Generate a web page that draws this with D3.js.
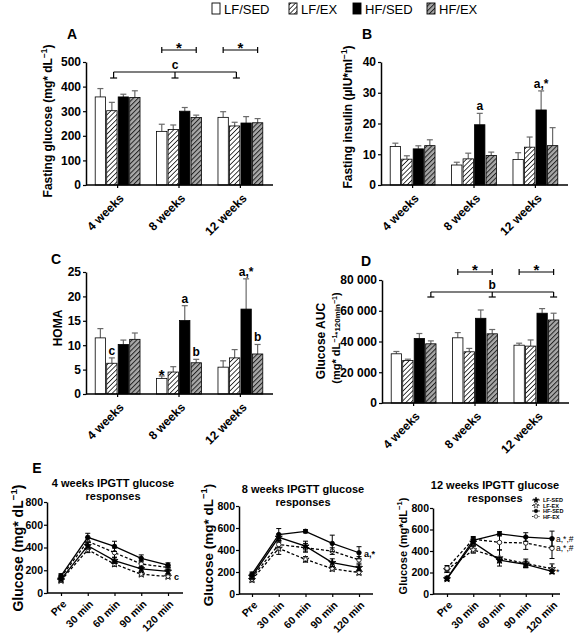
<!DOCTYPE html>
<html><head><meta charset="utf-8">
<script src="https://cdn.jsdelivr.net/npm/d3@7"></script>
<style>
body{margin:0;background:#fff}
svg{display:block}
text{font-family:"Liberation Sans",Arial,sans-serif}
</style>
</head><body>
<svg id="chart" width="576" height="635"></svg>
<script>
// ---------- DATA ----------
const groups = ["4 weeks", "8 weeks", "12 weeks"];
const series = ["LF/SED", "LF/EX", "HF/SED", "HF/EX"];
// rows = groups, columns = series
const glucoseMean = [[358, 302, 358, 356], [218, 226, 300, 274], [275, 240, 252, 253]];
const glucoseErr  = [[34, 34, 11, 27], [29, 18, 15, 10], [23, 15, 26, 17]];
const insulinMean = [[12.5, 8.4, 11.75, 12.8], [6.5, 8.5, 19.6, 9.6], [8.3, 12.3, 24.4, 12.8]];
const insulinErr  = [[1.1, 1.1, 1.0, 1.9], [0.9, 1.85, 3.7, 1.1], [2.2, 3.3, 6.2, 5.85]];
const homaMean = [[11.5, 6.3, 10.15, 11.2], [3.2, 4.5, 15.05, 6.4], [5.5, 7.4, 17.4, 8.2]];
const homaErr  = [[1.9, 1.1, 0.9, 1.3], [0.5, 1.1, 3.05, 0.7], [1.3, 1.7, 6.2, 1.95]];
const aucMean = [[32000, 27700, 42000, 38500], [42400, 33300, 55100, 45000], [37600, 37000, 58400, 54000]];
const aucErr  = [[1500, 800, 3200, 1900], [3400, 2200, 5400, 2800], [1300, 4000, 3000, 4400]];
const yTicksGlucose = [0, 100, 200, 300, 400, 500];
const yTicksInsulin = [0, 10, 20, 30, 40];
const yTicksHoma = [0, 5, 10, 15, 20, 25];
const yTicksAuc = [0, 20000, 40000, 60000, 80000];

const times = ["Pre", "30 min", "60 min", "90 min", "120 min"];
const lineSeries = ["LF-SED", "LF-EX", "HF-SED", "HF-EX"];
const yTicksIpgtt = [0, 200, 400, 600, 800];
// rows = lineSeries
const ipgtt4Mean = [[120, 415, 285, 212, 190], [110, 380, 255, 165, 145], [150, 490, 410, 305, 245], [140, 455, 355, 255, 225]];
const ipgtt4Err  = [[15, 30, 25, 20, 20], [15, 25, 20, 15, 15], [20, 35, 45, 30, 20], [20, 30, 40, 30, 20]];
const ipgtt8Mean = [[160, 515, 435, 285, 240], [130, 415, 315, 230, 195], [180, 540, 570, 460, 375], [150, 450, 420, 390, 310]];
const ipgtt8Err  = [[20, 30, 45, 35, 25], [20, 55, 25, 20, 20], [20, 55, 15, 75, 55], [20, 30, 40, 30, 30]];
const ipgtt12Mean = [[140, 480, 315, 275, 210], [225, 410, 335, 285, 235], [145, 500, 560, 530, 515], [240, 510, 480, 475, 425]];
const ipgtt12Err  = [[15, 30, 25, 30, 20], [25, 30, 75, 40, 45], [20, 25, 20, 40, 70], [25, 25, 70, 60, 95]];

// ---------- SETUP ----------
const svg = d3.select("#chart");
const defs = svg.append("defs");
function hatch(id, bg, fg, w) {
  const s = 3.4;
  const p = defs.append("pattern").attr("id", id).attr("patternUnits", "userSpaceOnUse")
    .attr("width", s).attr("height", s).attr("patternTransform", "rotate(45)");
  p.append("rect").attr("width", s).attr("height", s).attr("fill", bg);
  p.append("line").attr("x1", 0).attr("y1", 0).attr("x2", 0).attr("y2", s).attr("stroke", fg).attr("stroke-width", w);
}
hatch("hl", "#fff", "#000", 1.5);
hatch("hd", "#a8a8a8", "#222", 2);
const fills = {"LF/SED": "#fff", "LF/EX": "url(#hl)", "HF/SED": "#000", "HF/EX": "url(#hd)"};

function rich(t, parts, size) {
  let up = false;
  parts.forEach(p => {
    const sup = p.startsWith("^");
    const s = t.append("tspan").text(sup ? p.slice(1) : p);
    if (sup) {
      s.attr("font-size", size * 0.7);
      if (!up) { s.attr("dy", -size * 0.42); up = true; }
    } else if (up) { s.attr("dy", size * 0.42); up = false; }
  });
  return t;
}
function vlabel(x, y, parts, size) {
  const t = svg.append("text").attr("transform", `translate(${x},${y}) rotate(-90)`)
    .attr("text-anchor", "middle").attr("font-size", size).attr("font-weight", "bold");
  return rich(t, parts, size);
}
function txt(x, y, s, size, opts = {}) {
  return svg.append("text").attr("x", x).attr("y", y).attr("font-size", size)
    .attr("font-weight", opts.weight || "bold").attr("text-anchor", opts.anchor || "middle").text(s);
}
function styleAxis(a, fs) {
  a.select(".domain").attr("stroke", "#000").attr("stroke-width", 1.5);
  a.selectAll(".tick line").attr("stroke", "#000").attr("stroke-width", 1.2);
  a.selectAll("text").attr("font-size", fs).attr("font-weight", "bold").attr("fill", "#000")
    .attr("font-family", '"Liberation Sans",Arial,sans-serif');
}

// ---------- BAR PANELS ----------
function barPanel(o) {
  const g = svg.append("g");
  const x = d3.scaleBand().domain(groups).range([o.left, o.left + 186]).paddingInner(0.27).paddingOuter(0.15);
  const xi = d3.scaleBand().domain(series).range([0, x.bandwidth()]).paddingInner(0.1);
  const y = d3.scaleLinear().domain([0, d3.max(o.ticks)]).range([o.bottom, o.top]);
  groups.forEach((gr, gi) => {
    series.forEach((s, si) => {
      const m = o.mean[gi][si], e = o.err[gi][si];
      const bx = x(gr) + xi(s), cx = bx + xi.bandwidth() / 2;
      g.append("line").attr("x1", cx).attr("x2", cx).attr("y1", y(m)).attr("y2", y(m + e))
        .attr("stroke", "#6a6a6a").attr("stroke-width", 1.2);
      g.append("line").attr("x1", cx - 3).attr("x2", cx + 3).attr("y1", y(m + e)).attr("y2", y(m + e))
        .attr("stroke", "#6a6a6a").attr("stroke-width", 1.2);
      g.append("rect").attr("x", bx).attr("y", y(m)).attr("width", xi.bandwidth())
        .attr("height", o.bottom - y(m)).attr("fill", fills[s]).attr("stroke", "#000").attr("stroke-width", 0.8);
    });
  });
  const ya = g.append("g").attr("transform", `translate(${o.left},0)`)
    .call(d3.axisLeft(y).tickValues(o.ticks).tickSize(3).tickSizeOuter(0).tickPadding(2)
      .tickFormat(o.fmt || d3.format("d")));
  styleAxis(ya, 12);
  const xa = g.append("g").attr("transform", `translate(0,${o.bottom})`)
    .call(d3.axisBottom(x).tickSize(3).tickSizeOuter(0));
  styleAxis(xa, 12);
  xa.select(".domain").attr("d", `M${o.left},0H${o.left + 187}`);
  xa.selectAll(".tick text").attr("x", 0).attr("y", 0).attr("dy", "0.35em")
    .attr("text-anchor", "end").attr("transform", "translate(4,11) rotate(-45)");
  const cx = (gi, si) => x(groups[gi]) + xi(series[si]) + xi.bandwidth() / 2;
  return {x, xi, y, cx};
}
function starBracket(p, gi, yl) {
  const x1 = p.cx(gi, 0), x2 = p.cx(gi, 3);
  const g = svg.append("g").attr("stroke", "#000").attr("stroke-width", 1.2);
  g.append("line").attr("x1", x1).attr("x2", x2).attr("y1", yl).attr("y2", yl);
  g.append("line").attr("x1", x1).attr("x2", x1).attr("y1", yl - 3).attr("y2", yl + 3);
  g.append("line").attr("x1", x2).attr("x2", x2).attr("y1", yl - 3).attr("y2", yl + 3);
  txt((x1 + x2) / 2, yl + 3, "*", 15);
}
function spanBracket(xs, yTop, yBot, label, labelX) {
  const g = svg.append("g").attr("stroke", "#000").attr("stroke-width", 1.2);
  g.append("line").attr("x1", xs[0]).attr("x2", xs[xs.length - 1]).attr("y1", yTop).attr("y2", yTop);
  xs.forEach(xx => {
    g.append("line").attr("x1", xx).attr("x2", xx).attr("y1", yTop).attr("y2", yBot);
    g.append("line").attr("x1", xx - 3.5).attr("x2", xx + 3.5).attr("y1", yBot).attr("y2", yBot);
  });
  txt(labelX, yTop - 3, label, 12);
}
function barNote(p, gi, si, mean, err, s) {
  const top = p.y(mean[gi][si] + err[gi][si]);
  const star = s === "*";
  txt(p.cx(gi, si), top - (star ? -4 : 3), s, star ? 15 : 12);
}

// Legend
const legX = [212, 289, 353, 427];
series.forEach((s, i) => {
  svg.append("rect").attr("x", legX[i]).attr("y", 3).attr("width", 8).attr("height", 11)
    .attr("fill", fills[s]).attr("stroke", "#000").attr("stroke-width", 0.9);
  txt(legX[i] + 12, 14, s, 13, {anchor: "start", weight: "normal"});
});

// Panel A
const pA = barPanel({left: 86, top: 62, bottom: 185, ticks: yTicksGlucose, mean: glucoseMean, err: glucoseErr});
txt(72, 39, "A", 14);
vlabel(52, 121, ["Fasting glucose (mg* dL", "^−1", ")"], 12);
starBracket(pA, 1, 50);
starBracket(pA, 2, 50);
spanBracket(groups.map(gname => pA.x(gname) + pA.x.bandwidth() / 2 - 4), 72, 78, "c", pA.x(groups[1]) + pA.x.bandwidth() / 2 - 4);

// Panel B
const pB = barPanel({left: 381, top: 62, bottom: 185, ticks: yTicksInsulin, mean: insulinMean, err: insulinErr});
txt(367, 39, "B", 14);
vlabel(352, 117, ["Fasting insulin (µIU*ml", "^−1", ")"], 12);
barNote(pB, 1, 2, insulinMean, insulinErr, "a");
barNote(pB, 2, 2, insulinMean, insulinErr, "a,*");

// Panel C
const pC = barPanel({left: 86, top: 272, bottom: 394, ticks: yTicksHoma, mean: homaMean, err: homaErr});
txt(56, 264, "C", 14);
vlabel(62, 328, ["HOMA"], 12);
barNote(pC, 0, 1, homaMean, homaErr, "c");
barNote(pC, 1, 0, homaMean, homaErr, "*");
barNote(pC, 1, 2, homaMean, homaErr, "a");
barNote(pC, 1, 3, homaMean, homaErr, "b");
barNote(pC, 2, 2, homaMean, homaErr, "a,*");
barNote(pC, 2, 3, homaMean, homaErr, "b");

// Panel D
const pD = barPanel({left: 382, top: 280, bottom: 403, ticks: yTicksAuc, mean: aucMean, err: aucErr,
  fmt: d => d3.format(",")(d).replace(/,/g, " ")});
txt(366, 266, "D", 14);
vlabel(325, 341, ["Glucose AUC"], 12);
{
  const t = svg.append("text").attr("transform", "translate(340,338) rotate(-90)")
    .attr("text-anchor", "middle").attr("font-size", 11).attr("font-weight", "bold");
  const ps = [["(mg* dL", 11, 0], ["−1", 7, -3.5], ["*120min", 8, 3.5], ["−1", 7, -3.5], [")", 11, 3.5]];
  ps.forEach(([s, fs, dy]) => t.append("tspan").attr("font-size", fs).attr("dy", dy).text(s));
}
starBracket(pD, 1, 272);
starBracket(pD, 2, 272);
spanBracket([0, 1, 2].map(gi => pD.cx(gi, 3)), 292, 297, "b", pD.cx(1, 3));

// ---------- LINE PANELS ----------
const lineDash = [null, "3,2", null, "3,2"];
const symType = [d3.symbolStar, d3.symbolStar, d3.symbolCircle, d3.symbolCircle];
const symFill = ["#000", "#fff", "#000", "#fff"];
function linePanel(o) {
  const x = d3.scalePoint().domain(times).range([o.x0, o.x1]);
  const y = d3.scaleLinear().domain([0, 800]).range([o.bottom, o.top]);
  const g = svg.append("g");
  [1, 3, 0, 2].forEach(i => {
    const vals = o.mean[i], errs = o.err[i];
    times.forEach((t, j) => {
      const cx = x(t);
      g.append("line").attr("x1", cx).attr("x2", cx).attr("y1", y(vals[j] - errs[j])).attr("y2", y(vals[j] + errs[j]))
        .attr("stroke", "#000").attr("stroke-width", 1);
      [vals[j] - errs[j], vals[j] + errs[j]].forEach(v =>
        g.append("line").attr("x1", cx - 2.5).attr("x2", cx + 2.5).attr("y1", y(v)).attr("y2", y(v))
          .attr("stroke", "#000").attr("stroke-width", 1));
    });
    g.append("path").datum(vals).attr("fill", "none").attr("stroke", "#000").attr("stroke-width", 1.3)
      .attr("stroke-dasharray", lineDash[i])
      .attr("d", d3.line().x((d, j) => x(times[j])).y(d => y(d)));
    times.forEach((t, j) => {
      g.append("path").attr("d", d3.symbol().type(symType[i]).size(16)())
        .attr("transform", `translate(${x(t)},${y(vals[j])})`)
        .attr("fill", symFill[i]).attr("stroke", "#000").attr("stroke-width", 0.8);
    });
  });
  const ya = g.append("g").attr("transform", `translate(${o.left},0)`)
    .call(d3.axisLeft(y).tickValues(yTicksIpgtt).tickSize(3).tickSizeOuter(0).tickPadding(1));
  styleAxis(ya, 10.5);
  const xa = g.append("g").attr("transform", `translate(0,${o.bottom})`)
    .call(d3.axisBottom(x).tickSize(3).tickSizeOuter(0));
  styleAxis(xa, 10.5);
  xa.select(".domain").attr("d", `M${o.left},0H${o.right}`);
  xa.selectAll(".tick text").attr("x", 0).attr("y", 0).attr("dy", "0.35em")
    .attr("text-anchor", "end").attr("transform", "translate(3,9) rotate(-45)");
  txt(o.titleX, o.titleY, o.title, 11);
  txt(o.titleX, o.titleY + 13, "responses", 11);
  return {x, y};
}

const pE1 = linePanel({left: 47, right: 183, x0: 61, x1: 168, bottom: 593, top: 502,
  mean: ipgtt4Mean, err: ipgtt4Err, title: "4 weeks IPGTT glucose", titleX: 113, titleY: 487});
txt(37, 473, "E", 14);
vlabel(23, 548, ["Glucose (mg* dL", "^−1", ")"], 14);
txt(pE1.x("120 min") + 6, pE1.y(ipgtt4Mean[1][4]) + 3, "c", 9, {anchor: "start"});

const pE2 = linePanel({left: 239, right: 373, x0: 252, x1: 359, bottom: 594, top: 506,
  mean: ipgtt8Mean, err: ipgtt8Err, title: "8 weeks IPGTT glucose", titleX: 303, titleY: 493});
vlabel(213, 545, ["Glucose (mg* dL", "^−1", ")"], 13.5);
txt(pE2.x("120 min") + 5, pE2.y(ipgtt8Mean[2][4]) + 4, "a,*", 9, {anchor: "start"});

const pE3 = linePanel({left: 433, right: 560, x0: 447, x1: 552, bottom: 594, top: 508,
  mean: ipgtt12Mean, err: ipgtt12Err, title: "12 weeks IPGTT glucose", titleX: 495, titleY: 489});
vlabel(407, 546, ["Glucose (mg*dL", "^−1", ")"], 11);
txt(pE3.x("120 min") + 4, pE3.y(ipgtt12Mean[2][4]) + 3, "a,*,#", 8.5, {anchor: "start", weight: "normal"});
txt(pE3.x("120 min") + 4, pE3.y(ipgtt12Mean[3][4]) + 3, "a,*,#", 8.5, {anchor: "start", weight: "normal"});
txt(pE3.x("120 min") + 4, pE3.y(ipgtt12Mean[1][4]) + 6, "*", 9, {anchor: "start", weight: "normal"});
// E3 legend
lineSeries.forEach((s, i) => {
  const ly = 500 + i * 5.5;
  svg.append("line").attr("x1", 532).attr("x2", 540).attr("y1", ly).attr("y2", ly)
    .attr("stroke", "#000").attr("stroke-width", 0.8).attr("stroke-dasharray", lineDash[i] ? "1.5,1" : null);
  svg.append("path").attr("d", d3.symbol().type(symType[i]).size(10)())
    .attr("transform", `translate(536,${ly})`).attr("fill", symFill[i]).attr("stroke", "#000").attr("stroke-width", 0.6);
  txt(543, ly + 2, s, 5.5, {anchor: "start"});
});
</script>
</body></html>
